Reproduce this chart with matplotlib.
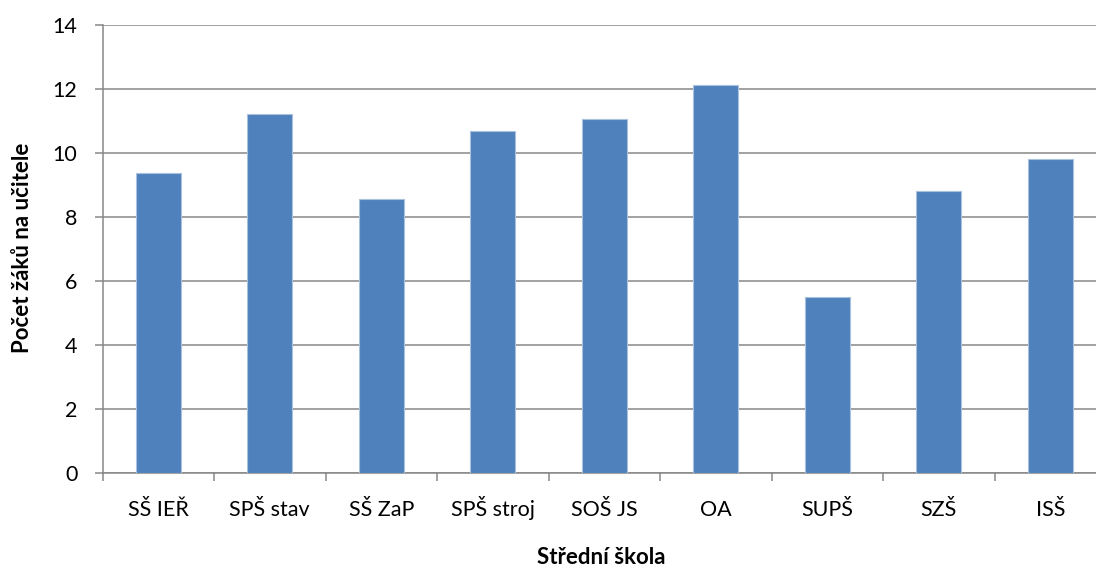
import matplotlib
matplotlib.use("Agg")
import matplotlib.pyplot as plt
import numpy as np

categories = ["SŠ IEŘ", "SPŠ stav", "SŠ ZaP", "SPŠ stroj", "SOŠ JS", "OA", "SUPŠ", "SZŠ", "ISŠ"]
values = [9.39, 11.23, 8.58, 10.69, 11.08, 12.14, 5.52, 8.82, 9.83]
yticks = [0, 2, 4, 6, 8, 10, 12, 14]

plt.rcParams['font.family'] = ['Lato', 'DejaVu Sans']

fig = plt.figure(figsize=(10.96, 5.68), dpi=100)
ax = fig.add_axes([102.5/1096, 1-473.3/568, 9*111.5/1096, (473.3-25)/568])

x = np.arange(len(categories))
ax.bar(x, values, width=0.4, color="#4F81BD", edgecolor="#A9C1DE", linewidth=0.8, zorder=3)

ax.set_xlim(-0.5, len(categories)-0.5)
ax.set_ylim(0, 14)
ax.set_yticks(yticks)
ax.set_yticklabels([str(t) for t in yticks], fontsize=15.5)
ax.yaxis.grid(True, color="#878787", linewidth=1.1, zorder=0)
ax.set_axisbelow(True)

ax.set_xticks(np.arange(-0.5, len(categories), 1.0))
ax.set_xticklabels([])
ax.set_xticks(x, minor=True)
ax.set_xticklabels(categories, minor=True, fontsize=15.5, va='baseline')
ax.tick_params(axis='x', which='major', length=6, color="#878787", width=1.1, direction='out')
ax.tick_params(axis='x', which='minor', length=0, pad=31)
ax.tick_params(axis='y', length=6, color="#878787", width=1.1, direction='out', pad=12)

for s in ['top', 'right']:
    ax.spines[s].set_visible(False)
for s in ['left', 'bottom']:
    ax.spines[s].set_color("#878787")
    ax.spines[s].set_linewidth(1.1)

fig.text(601/1096, 1-558/568, "Střední škola", ha='center', va='center', fontsize=16, fontweight='bold')
fig.text(23/1096, 1-248/568, "Počet žáků na učitele", ha='center', va='center', rotation=90, fontsize=16, fontweight='bold')

fig.savefig("out.png", dpi=100)
